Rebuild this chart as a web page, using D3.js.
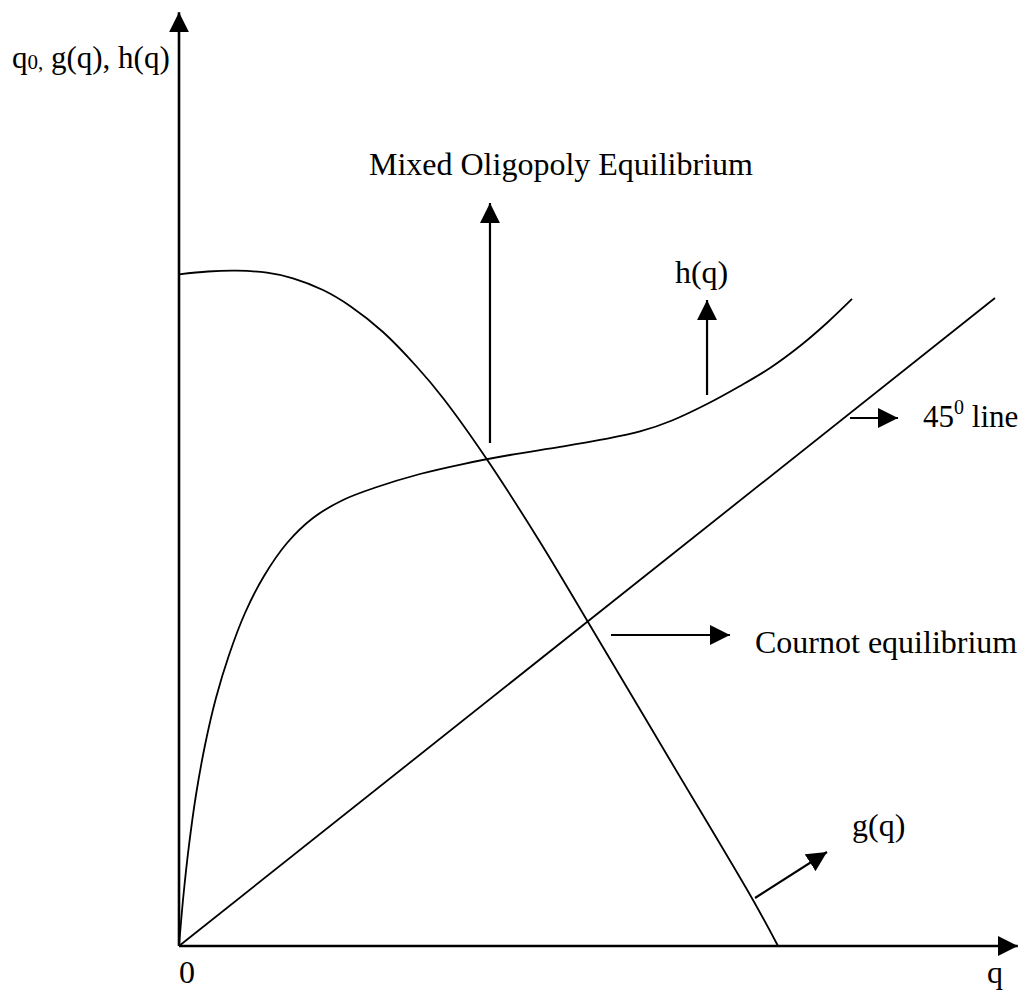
<!DOCTYPE html>
<html>
<head>
<meta charset="utf-8">
<script src="https://cdn.jsdelivr.net/npm/d3@7"></script>
<style>
  html, body { margin: 0; padding: 0; background: #fff; }
  svg { display: block; }
  text { font-family: "Liberation Serif", "Times New Roman", serif; fill: #000; }
</style>
</head>
<body>
<svg id="chart" width="1027" height="995"></svg>
<script>
// ---- data (diagram units: the 45-degree line is y = q) ----
const gCurve = [
  [0, 103.66], [3.55, 104.09], [7.11, 104.21], [10.78, 103.9], [13.97, 103.04],
  [17.65, 101.23], [20.96, 98.77], [25.0, 94.75], [29.17, 89.35], [32.35, 84.57],
  [37.62, 75.31], [44.24, 62.35], [50.12, 50.0], [60.17, 28.7], [70.34, 7.1], [73.41, 0]
];
const hCurve = [
  [0, 0], [0.55, 7.87], [1.23, 15.59], [2.08, 23.3], [3.19, 31.02], [4.53, 38.27],
  [6.13, 44.91], [8.09, 51.39], [10.42, 57.1], [13.24, 62.19], [16.42, 66.05],
  [20.1, 68.83], [24.26, 70.83], [29.53, 72.84], [34.8, 74.38], [40.56, 75.77],
  [46.69, 77.01], [51.59, 78.09], [56.5, 79.4], [60.42, 81.1], [64.71, 83.64],
  [68.75, 86.42], [72.43, 89.2], [76.1, 92.59], [79.53, 96.3], [82.48, 99.85]
];
const line45 = [[0, 0], [100, 100]];
const axisEnds = { x: 102.8, y: 144.1 };

// annotation arrows [from, to]
const arrows = [
  [[38.11, 77.62], [38.11, 114.66]],   // Mixed Oligopoly Equilibrium
  [[64.71, 85.03], [64.71, 99.69]],    // h(q)
  [[82.23, 81.48], [88.11, 81.48]],    // 45 line
  [[52.94, 47.99], [67.52, 47.99]],    // Cournot
  [[70.59, 7.41], [79.41, 14.51]]      // g(q)
];
const labels = [
  { text: "Mixed Oligopoly Equilibrium", at: [23.28, 118.98] },
  { text: "h(q)", at: [60.78, 102.31] },
  { text: "Cournot equilibrium", at: [70.59, 45.22] },
  { text: "g(q)", at: [82.48, 16.98] },
  { text: "0", at: [0, -5.71] },
  { text: "q", at: [99.02, -5.71] }
];

// ---- scales ----
const x = d3.scaleLinear().domain([0, 100]).range([179, 995]);
const y = d3.scaleLinear().domain([0, 100]).range([946, 298]);

const svg = d3.select("#chart");

const defs = svg.append("defs");
defs.append("marker")
  .attr("id", "head")
  .attr("markerUnits", "userSpaceOnUse")
  .attr("viewBox", "0 0 20 20")
  .attr("markerWidth", 20).attr("markerHeight", 20)
  .attr("refX", 20).attr("refY", 10)
  .attr("orient", "auto")
  .append("path").attr("d", "M0,0 L20,10 L0,20 Z").attr("fill", "#000");

// axes
svg.append("line")
  .attr("x1", x(0)).attr("y1", y(0)).attr("x2", x(axisEnds.x)).attr("y2", y(0))
  .attr("stroke", "#000").attr("stroke-width", 2.6).attr("marker-end", "url(#head)");
svg.append("line")
  .attr("x1", x(0)).attr("y1", y(0)).attr("x2", x(0)).attr("y2", y(axisEnds.y))
  .attr("stroke", "#000").attr("stroke-width", 2.6).attr("marker-end", "url(#head)");

// curves
const lineGen = d3.line().x(d => x(d[0])).y(d => y(d[1])).curve(d3.curveCatmullRom.alpha(0.5));
[gCurve, hCurve, line45].forEach(data => {
  svg.append("path").attr("d", lineGen(data))
    .attr("fill", "none").attr("stroke", "#000").attr("stroke-width", 1.8);
});

// annotation arrows
arrows.forEach(([a, b]) => {
  svg.append("line")
    .attr("x1", x(a[0])).attr("y1", y(a[1])).attr("x2", x(b[0])).attr("y2", y(b[1]))
    .attr("stroke", "#000").attr("stroke-width", 2.2).attr("marker-end", "url(#head)");
});

// labels
labels.forEach(l => {
  svg.append("text").attr("x", x(l.at[0])).attr("y", y(l.at[1]))
    .attr("font-size", 32).text(l.text);
});

// 45^0 line
const t45 = svg.append("text").attr("x", x(91.18)).attr("y", y(80.09)).attr("font-size", 31);
t45.append("tspan").text("45");
t45.append("tspan").attr("font-size", 20).attr("dy", -13).text("0");
t45.append("tspan").attr("dy", 13).text(" line");

// y-axis label q0, g(q), h(q)
const ty = svg.append("text").attr("x", x(-20.47)).attr("y", y(135.49)).attr("font-size", 31);
ty.append("tspan").text("q");
ty.append("tspan").attr("font-size", 21).attr("dy", 1).text("0,");
ty.append("tspan").attr("dy", -1).text(" g(q), h(q)");
</script>
</body>
</html>
